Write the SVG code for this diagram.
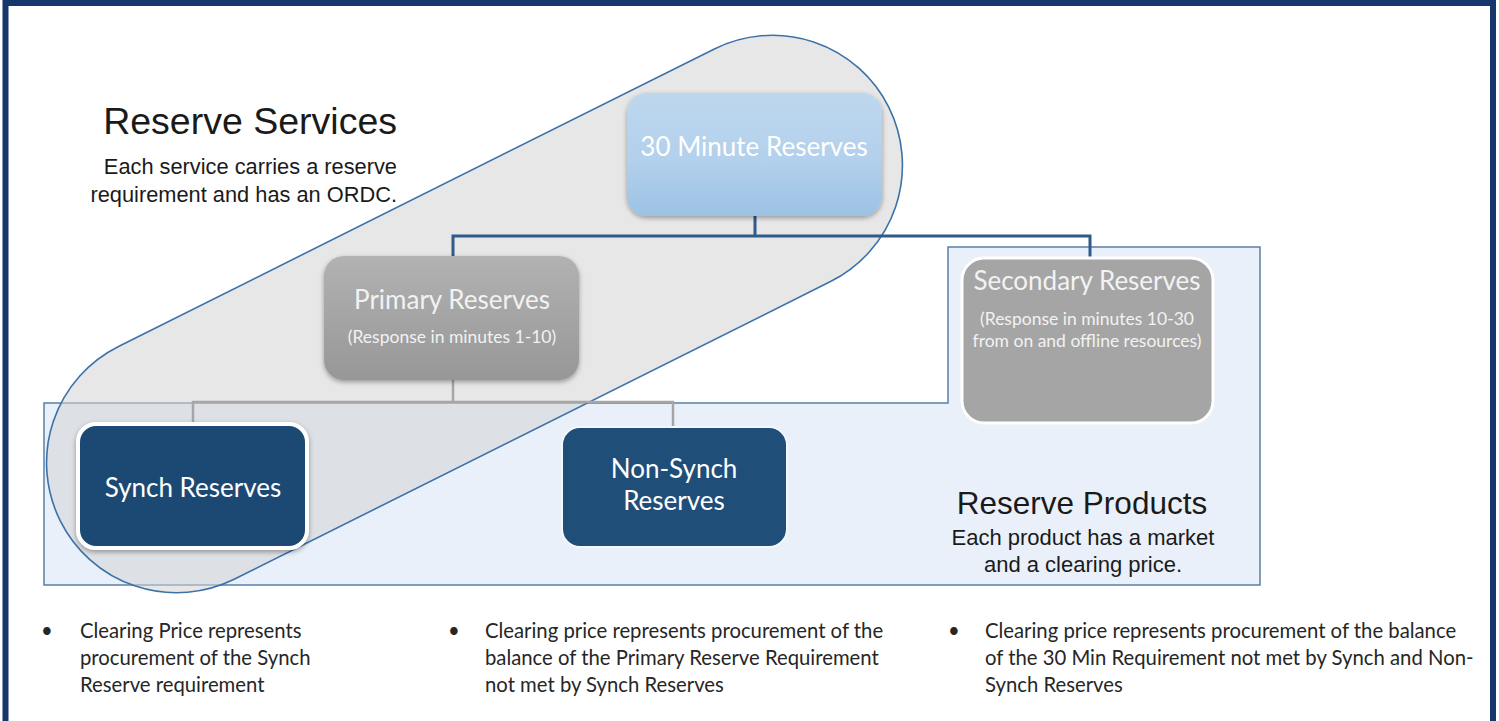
<svg xmlns="http://www.w3.org/2000/svg" width="1499" height="721" viewBox="0 0 1499 721">
  <defs>
    <linearGradient id="gBlue" x1="0" y1="0" x2="0" y2="1">
      <stop offset="0" stop-color="#bdd7ee"/>
      <stop offset="0.55" stop-color="#b3d0ec"/>
      <stop offset="1" stop-color="#9cc2e5"/>
    </linearGradient>
    <linearGradient id="gGray" x1="0" y1="0" x2="0" y2="1">
      <stop offset="0" stop-color="#b2b2b2"/>
      <stop offset="1" stop-color="#979797"/>
    </linearGradient>
    <filter id="shadow" x="-10%" y="-10%" width="120%" height="125%">
      <feDropShadow dx="0" dy="2" stdDeviation="2.5" flood-color="#000" flood-opacity="0.35"/>
    </filter>
  </defs>
  <style>
    .cal { font-family: Lato, "Open Sans", "Liberation Sans", sans-serif; }
    .ari { font-family: "Liberation Sans", Arial, sans-serif; fill: #1a1a1a; }
    .wt { fill: #ffffff; }
    .lt { fill: #f2f2f2; }
    .nt { font-size: 26px; }
    .st { font-size: 17.5px; }
    .bul { font-family: Lato, "Open Sans", "Liberation Sans", sans-serif; font-size: 20.3px; fill: #262626; }
    .blue { stroke: #2e5b8c; stroke-width: 3; fill: none; }
    .gray { stroke: #a6a6a6; stroke-width: 2.5; fill: none; }
  </style>

  <rect x="0" y="0" width="1499" height="721" fill="#ffffff"/>
  <!-- frame -->
  <rect x="5.5" y="3" width="1487.5" height="725" fill="none" stroke="#17366b" stroke-width="6"/>

  <!-- Reserve Products region -->
  <g id="reserve-products">
    <path d="M44,403 H948 V247 H1260 V585 H44 Z" fill="#e9f0f9" stroke="#5a7fa8" stroke-width="1.5"/>
  </g>

  <!-- Reserve Services capsule -->
  <g id="reserve-services">
    <rect x="-463" y="-130" width="926" height="260" rx="130" ry="130" transform="translate(474.5,314) rotate(-26.53)" fill="#d4d4d4" fill-opacity="0.55" stroke="#3d72a8" stroke-width="1.6"/>
  </g>

  <!-- connectors -->
  <g id="connectors">
    <path class="blue" d="M755,215 V236 M453,257 V236 H1090 V259"/>
    <path class="gray" d="M453,380 V402 M193,424 V402 H673 V428"/>
  </g>

  <g id="node-30min">
    <rect x="627" y="93" width="255" height="123" rx="20" fill="url(#gBlue)" filter="url(#shadow)"/>
    <text class="cal wt nt" x="754" y="156" text-anchor="middle">30 Minute  Reserves</text>
  </g>

  <g id="node-primary">
    <rect x="324" y="256" width="255" height="124" rx="20" fill="url(#gGray)" filter="url(#shadow)"/>
    <text class="cal lt nt" x="452" y="309" text-anchor="middle">Primary Reserves</text>
    <text class="cal lt st" x="452" y="343" text-anchor="middle">(Response in minutes 1-10)</text>
  </g>

  <g id="node-secondary">
    <rect x="962" y="258" width="251" height="165" rx="22" fill="#a5a5a5" stroke="#ffffff" stroke-width="3"/>
    <text class="cal lt nt" x="1087" y="290" text-anchor="middle">Secondary Reserves</text>
    <text class="cal lt st" x="1087" y="325" text-anchor="middle">(Response in minutes 10-30</text>
    <text class="cal lt st" x="1087" y="347" text-anchor="middle">from on and offline resources)</text>
  </g>

  <g id="node-synch">
    <rect x="78" y="424" width="229" height="124" rx="18" fill="#1f4a73" stroke="#ffffff" stroke-width="4" filter="url(#shadow)"/>
    <text class="cal wt nt" x="193" y="497" text-anchor="middle">Synch Reserves</text>
  </g>

  <g id="node-nonsynch">
    <rect x="562" y="427" width="225" height="120" rx="18" fill="#1f4e79" stroke="#f4f7fb" stroke-width="2"/>
    <text class="cal wt nt" x="674" y="478" text-anchor="middle">Non-Synch</text>
    <text class="cal wt nt" x="674" y="510" text-anchor="middle">Reserves</text>
  </g>

  <g id="label-services">
    <text class="ari" x="397" y="134" font-size="37.5" text-anchor="end">Reserve Services</text>
    <text class="ari" x="397" y="174" font-size="21.8" text-anchor="end">Each service carries a reserve</text>
    <text class="ari" x="397" y="202" font-size="21.8" text-anchor="end">requirement and has an ORDC.</text>
  </g>

  <g id="label-products">
    <text class="ari" x="1082" y="514" font-size="31.5" text-anchor="middle">Reserve Products</text>
    <text class="ari" x="1083" y="545" font-size="22" text-anchor="middle">Each product has a market</text>
    <text class="ari" x="1083" y="572" font-size="22" text-anchor="middle">and a clearing price.</text>
  </g>

  <g id="notes">
    <text class="bul" x="41" y="638">•</text>
    <text class="bul" x="80" y="638">Clearing Price represents</text>
    <text class="bul" x="80" y="665">procurement of the Synch</text>
    <text class="bul" x="80" y="692">Reserve requirement</text>

    <text class="bul" x="448" y="638">•</text>
    <text class="bul" x="485" y="638">Clearing price represents procurement of the</text>
    <text class="bul" x="485" y="665">balance of the Primary Reserve Requirement</text>
    <text class="bul" x="485" y="692">not met by Synch Reserves</text>

    <text class="bul" x="948" y="638">•</text>
    <text class="bul" x="985" y="638">Clearing price represents procurement of the balance</text>
    <text class="bul" x="985" y="665">of the 30 Min Requirement not met by Synch and Non-</text>
    <text class="bul" x="985" y="692">Synch Reserves</text>
  </g>
</svg>
